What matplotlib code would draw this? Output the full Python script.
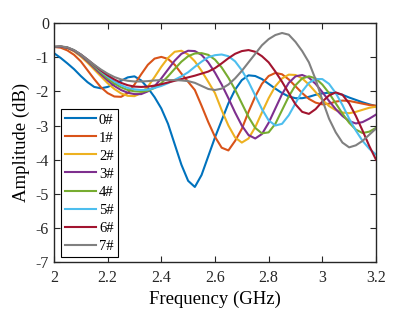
import numpy as np
import matplotlib
matplotlib.use("Agg")
import matplotlib.pyplot as plt

plt.rcParams['font.family'] = ['Liberation Serif', 'DejaVu Serif']
plt.rcParams['axes.unicode_minus'] = False

# frequency grid (GHz) and amplitude readings (dB) for each sample
freq = np.round(np.arange(0, 49) * 0.025 + 2.0, 3)

amp_0 = [-0.88, -1.02, -1.18, -1.35, -1.55, -1.73, -1.87, -1.91, -1.87, -1.79,
         -1.69, -1.59, -1.56, -1.68, -1.90, -2.17, -2.50, -2.95, -3.55, -4.15,
         -4.62, -4.80, -4.45, -3.90, -3.35, -2.85, -2.35, -1.95, -1.67, -1.53,
         -1.55, -1.64, -1.78, -1.92, -2.05, -2.15, -2.20, -2.20, -2.16, -2.10,
         -2.06, -2.04, -2.05, -2.10, -2.18, -2.25, -2.32, -2.38, -2.43]
amp_1 = [-0.70, -0.72, -0.80, -0.93, -1.12, -1.38, -1.64, -1.88, -2.05, -2.15,
         -2.16, -2.05, -1.80, -1.50, -1.22, -1.04, -0.99, -1.05, -1.22, -1.48,
         -1.72, -1.96, -2.42, -2.90, -3.33, -3.65, -3.73, -3.45, -3.10, -2.60,
         -2.15, -1.78, -1.55, -1.46, -1.50, -1.65, -1.85, -2.05, -2.22, -2.33,
         -2.38, -2.36, -2.30, -2.27, -2.28, -2.32, -2.36, -2.40, -2.42]
amp_2 = [-0.70, -0.69, -0.73, -0.83, -0.98, -1.16, -1.36, -1.56, -1.76, -1.93,
         -2.06, -2.13, -2.14, -2.05, -1.86, -1.58, -1.28, -1.02, -0.84, -0.81,
         -0.92, -1.12, -1.40, -1.72, -2.05, -2.55, -3.00, -3.35, -3.50, -3.38,
         -3.05, -2.62, -2.20, -1.85, -1.62, -1.51, -1.52, -1.62, -1.80, -2.02,
         -2.25, -2.43, -2.55, -2.62, -2.64, -2.60, -2.54, -2.48, -2.45]
amp_3 = [-0.70, -0.69, -0.72, -0.81, -0.95, -1.12, -1.31, -1.50, -1.68, -1.84,
         -1.96, -2.04, -2.08, -2.08, -2.00, -1.85, -1.62, -1.36, -1.10, -0.90,
         -0.81, -0.82, -0.93, -1.15, -1.45, -1.80, -2.20, -2.62, -3.00, -3.28,
         -3.38, -3.25, -2.92, -2.50, -2.08, -1.75, -1.56, -1.52, -1.60, -1.78,
         -2.02, -2.28, -2.52, -2.72, -2.87, -2.94, -2.90, -2.80, -2.68]
amp_4 = [-0.70, -0.69, -0.72, -0.80, -0.93, -1.09, -1.27, -1.45, -1.62, -1.77,
         -1.88, -1.96, -2.00, -2.01, -1.98, -1.90, -1.76, -1.56, -1.34, -1.13,
         -0.97, -0.89, -0.88, -0.93, -1.07, -1.30, -1.60, -1.95, -2.35, -2.75,
         -3.07, -3.23, -3.20, -2.95, -2.55, -2.15, -1.82, -1.62, -1.56, -1.62,
         -1.80, -2.05, -2.35, -2.65, -2.92, -3.12, -3.22, -3.18, -3.07]
amp_5 = [-0.70, -0.69, -0.72, -0.80, -0.92, -1.07, -1.24, -1.41, -1.57, -1.71,
         -1.82, -1.90, -1.94, -1.96, -1.95, -1.90, -1.84, -1.76, -1.66, -1.56,
         -1.44, -1.28, -1.13, -1.00, -0.94, -0.92, -0.97, -1.12, -1.38, -1.72,
         -2.12, -2.52, -2.85, -3.00, -2.95, -2.70, -2.35, -2.00, -1.75, -1.64,
         -1.64, -1.78, -2.05, -2.40, -2.80, -3.15, -3.45, -3.68, -3.85]
amp_6 = [-0.70, -0.69, -0.72, -0.80, -0.92, -1.07, -1.23, -1.39, -1.53, -1.65,
         -1.75, -1.82, -1.86, -1.87, -1.86, -1.83, -1.79, -1.74, -1.69, -1.64,
         -1.59, -1.54, -1.48, -1.42, -1.32, -1.18, -1.03, -0.90, -0.82, -0.79,
         -0.84, -0.97, -1.15, -1.42, -1.72, -2.05, -2.38, -2.60, -2.66, -2.52,
         -2.30, -2.12, -2.03, -2.10, -2.35, -2.72, -3.15, -3.60, -4.00]
amp_7 = [-0.70, -0.68, -0.71, -0.79, -0.92, -1.07, -1.22, -1.36, -1.48, -1.58,
         -1.65, -1.69, -1.71, -1.71, -1.70, -1.68, -1.67, -1.67, -1.67, -1.68,
         -1.70, -1.75, -1.84, -1.93, -1.96, -1.92, -1.80, -1.62, -1.40, -1.15,
         -0.90, -0.65, -0.47, -0.35, -0.29, -0.34, -0.55, -0.82, -1.15, -1.65,
         -2.25, -2.80, -3.20, -3.50, -3.64, -3.58, -3.45, -3.27, -3.09]

series = [amp_0, amp_1, amp_2, amp_3, amp_4, amp_5, amp_6, amp_7]
labels = ['0#', '1#', '2#', '3#', '4#', '5#', '6#', '7#']
colors = ['#0072BD', '#D95319', '#EDB120', '#7E2F8E',
          '#77AC30', '#4DBEEE', '#A2142F', '#808080']

fig = plt.figure(figsize=(4.15, 3.12), dpi=100)
ax = fig.add_axes([0.130, 0.160, 0.776, 0.766])

for vals, lab, col in zip(series, labels, colors):
    ax.plot(freq, vals, color=col, linewidth=1.5, label=lab)

ax.set_xlim(2, 3.2)
ax.set_ylim(-7, 0)
ax.set_xticks([2, 2.2, 2.4, 2.6, 2.8, 3, 3.2])
ax.set_xticklabels(['2', '2.2', '2.4', '2.6', '2.8', '3', '3.2'])
ax.set_yticks(range(-7, 1))
ax.set_yticklabels([str(v) for v in range(-7, 1)])

ax.set_xlabel('Frequency (GHz)', fontsize=13.5, labelpad=3)
ax.set_ylabel('Amplitude (dB)', fontsize=13.5, labelpad=4)

for s in ax.spines.values():
    s.set_color('#262626')
    s.set_linewidth(1.0)
ax.tick_params(direction='in', length=4, width=0.8, colors='#262626',
               top=True, right=True, labelsize=11.5, labelcolor='#262626')
ax.tick_params(axis='x', pad=6)

leg = ax.legend(loc='lower left', bbox_to_anchor=(0.022, 0.021),
                borderaxespad=0, fontsize=10.5, labelspacing=0.33,
                handlelength=2.1, handletextpad=0.2, borderpad=0.3,
                fancybox=False, framealpha=1, edgecolor='black')
leg.get_frame().set_linewidth(0.8)

fig.savefig('out.png', dpi=100)
